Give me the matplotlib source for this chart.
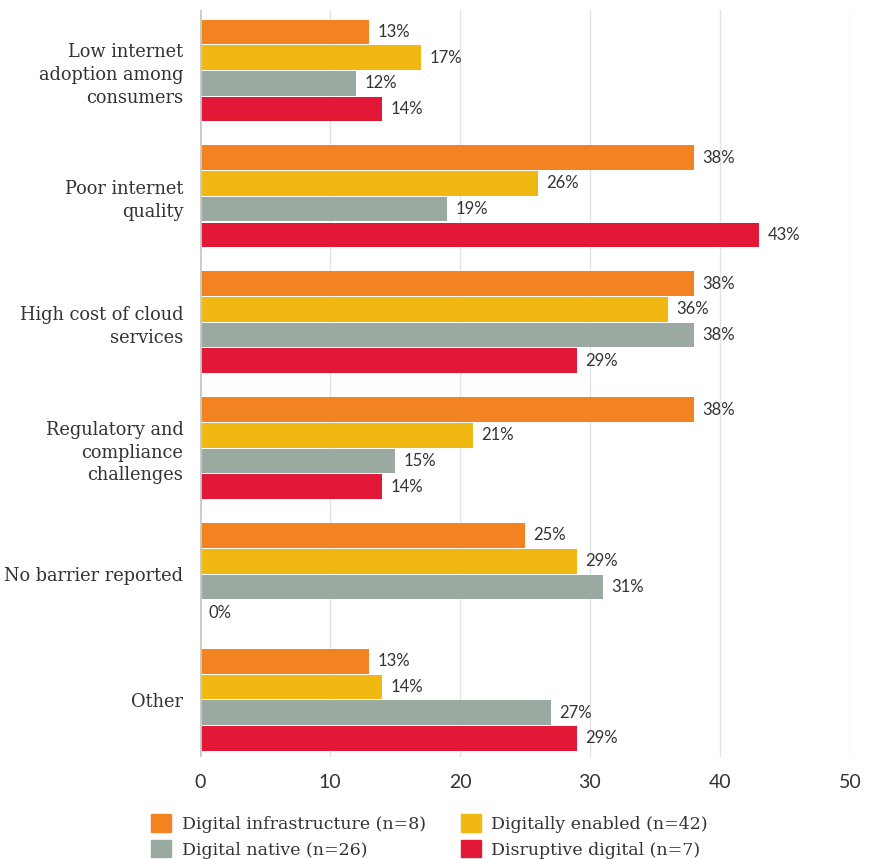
import numpy as np
import matplotlib.pyplot as plt
from matplotlib.patches import Patch

categories = ["Low internet\nadoption among\nconsumers", "Poor internet\nquality",
              "High cost of cloud\nservices", "Regulatory and\ncompliance\nchallenges",
              "No barrier reported", "Other"]
series = ["Digital infrastructure (n=8)", "Digitally enabled (n=42)",
          "Digital native (n=26)", "Disruptive digital (n=7)"]
infrastructure = [13, 38, 38, 38, 25, 13]
enabled = [17, 26, 36, 21, 29, 14]
native = [12, 19, 38, 15, 31, 27]
disruptive = [14, 43, 29, 14, 0, 29]
colors = ["#F38321", "#F1B811", "#9AAAA0", "#E31837"]
xticks = [0, 10, 20, 30, 40, 50]

values = [infrastructure, enabled, native, disruptive]

fig = plt.figure(figsize=(8.7, 8.59), dpi=100)
ax = fig.add_axes([200 / 870, 1 - 757 / 859, 650 / 870, 747 / 859])

pitch = 4.9
base = np.arange(len(categories)) * pitch
for k, (vals, col) in enumerate(zip(values, colors)):
    y = base + k
    ax.barh(y, vals, height=0.96, color=col, zorder=3)
    for yy, v in zip(y, vals):
        ax.annotate(f"{v}%", (v, yy), xytext=(6, 0), textcoords="offset points",
                    va="center", ha="left", fontsize=12, family="Lato",
                    color="#333333")

ax.set_ylim(28.22, -0.85)
ax.set_xlim(0, 50)
ax.set_yticks(base + 1.5)
ax.set_yticklabels(categories, family="DejaVu Serif", fontsize=12.8,
                   color="#333333", linespacing=1.35)
ax.set_xticks(xticks)
ax.set_xticklabels([str(t) for t in xticks], family="Lato", fontsize=14,
                   color="#333333")
ax.tick_params(axis="both", length=0)
ax.tick_params(axis="y", pad=12)
ax.tick_params(axis="x", pad=12)
for s in ax.spines.values():
    s.set_visible(False)
ax.grid(axis="x", color="#e3e3e3", linewidth=1, zorder=0)
ax.axvline(0, color="#c8ccc8", linewidth=2, zorder=4)

handles = [Patch(color=c) for c in colors]
order = [0, 2, 1, 3]
fig.legend([handles[i] for i in order], [series[i] for i in order],
           ncol=2, loc="upper left", bbox_to_anchor=(148 / 870, 1 - 811 / 859),
           frameon=False, prop={"family": "DejaVu Serif", "size": 12.5},
           handlelength=1.15, handleheight=1.15, handletextpad=0.6,
           columnspacing=2.0, labelspacing=0.42, labelcolor="#333333",
           borderaxespad=0, borderpad=0.2)

fig.savefig("out.png", dpi=100)
